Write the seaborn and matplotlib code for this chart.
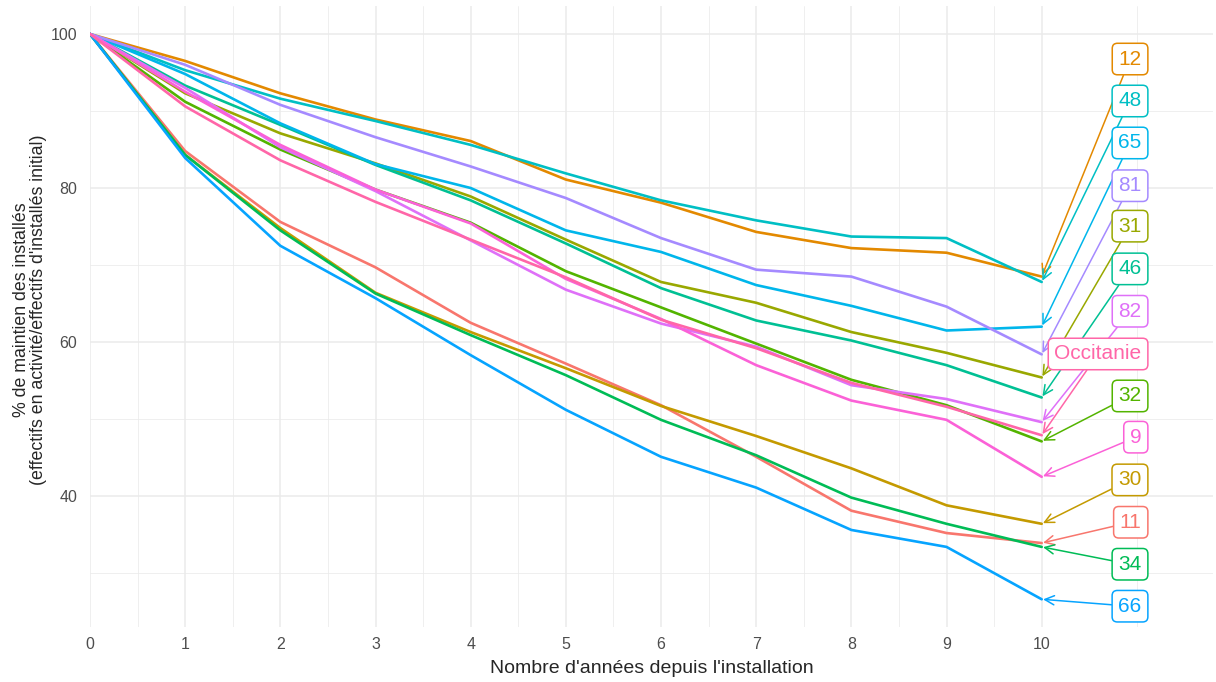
import numpy as np
import pandas as pd
import seaborn as sns
import matplotlib.pyplot as plt

# Years since installation
annees = list(range(11))

# % still active (one list per department / region)
d11 = [100, 84.8, 75.6, 69.7, 62.5, 57.2, 51.8, 45.1, 38.1, 35.2, 33.9]
d12 = [100, 96.5, 92.3, 88.9, 86.1, 81.1, 78.1, 74.3, 72.2, 71.6, 68.5]
d30 = [100, 84.3, 74.8, 66.4, 61.3, 56.6, 51.7, 47.8, 43.6, 38.8, 36.4]
d31 = [100, 92.3, 87.1, 83.2, 78.9, 73.3, 67.8, 65.1, 61.3, 58.6, 55.4]
d32 = [100, 91.2, 85.0, 79.8, 75.5, 69.2, 64.5, 59.8, 55.1, 51.8, 47.1]
d34 = [100, 84.3, 74.5, 66.3, 60.9, 55.7, 49.9, 45.3, 39.8, 36.4, 33.4]
d46 = [100, 93.3, 88.2, 83.0, 78.4, 72.8, 67.0, 62.8, 60.2, 57.0, 52.8]
d48 = [100, 95.3, 91.6, 88.7, 85.6, 81.9, 78.4, 75.8, 73.7, 73.5, 67.8]
d65 = [100, 94.8, 88.4, 83.1, 80.0, 74.5, 71.7, 67.4, 64.7, 61.5, 62.0]
d66 = [100, 83.9, 72.5, 65.7, 58.3, 51.2, 45.1, 41.1, 35.6, 33.4, 26.6]
d81 = [100, 96.0, 90.8, 86.6, 82.8, 78.7, 73.5, 69.4, 68.5, 64.6, 58.4]
d82 = [100, 93.0, 85.3, 79.6, 73.2, 66.8, 62.4, 59.4, 54.4, 52.6, 49.6]
d9 = [100, 92.5, 85.6, 79.8, 75.4, 68.2, 63.0, 57.0, 52.4, 49.9, 42.5]
occitanie = [100, 90.6, 83.6, 78.2, 73.3, 68.4, 62.9, 59.2, 54.7, 51.6, 47.9]

zones = ["11", "12", "30", "31", "32", "34", "46", "48", "65", "66", "81", "82", "9", "Occitanie"]
series = [d11, d12, d30, d31, d32, d34, d46, d48, d65, d66, d81, d82, d9, occitanie]

# ggplot default hue palette for 14 groups
couleurs = ["#F8766D", "#E38900", "#C49A00", "#99A800", "#53B400", "#00BC56", "#00C094",
            "#00BFC4", "#00B6EB", "#06A4FF", "#A58AFF", "#DF70F8", "#FB61D7", "#FF66A8"]

# label order from top to bottom on the right side
ordre_labels = ["12", "48", "65", "81", "31", "46", "82", "Occitanie", "32", "9", "30", "11", "34", "66"]
label_y = [96.75, 91.3, 85.85, 80.3, 75.05, 69.5, 64.0, 58.45, 53.0, 47.65, 42.1, 36.6, 31.15, 25.7]

df = pd.DataFrame({
    "annee": np.tile(annees, len(zones)),
    "zone": np.repeat(zones, len(annees)),
    "taux": np.concatenate(series),
})
palette = dict(zip(zones, couleurs))

sns.set_theme(style="white")
plt.rcParams["font.family"] = ["Liberation Sans", "DejaVu Sans"]

fig = plt.figure(figsize=(12.16, 6.82), dpi=100)
ax = fig.add_axes([90 / 1216, 55 / 682, 1123 / 1216, 621.5 / 682])

sns.lineplot(data=df, x="annee", y="taux", hue="zone", hue_order=zones,
             palette=palette, linewidth=1.9, legend=False, ax=ax, zorder=3)

ax.set_xlim(0, 11.8)
ax.set_ylim(23.0, 103.7)
ax.set_xticks(range(11))
ax.set_xticks([i / 2 for i in range(1, 21, 2)] + [11], minor=True)
ax.set_yticks([40, 60, 80, 100])
ax.set_yticks([30, 50, 70, 90], minor=True)
ax.grid(which="major", color="#EBEBEB", linewidth=1.1, zorder=0)
ax.grid(which="minor", color="#EBEBEB", linewidth=0.55, zorder=0)
ax.tick_params(which="both", length=0, labelsize=11.5, labelcolor="#4D4D4D")
ax.tick_params(axis="y", pad=9)
ax.tick_params(axis="x", pad=7)
for s in ax.spines.values():
    s.set_visible(False)

ax.set_xlabel("Nombre d'années depuis l'installation", fontsize=14, labelpad=6)
ax.set_ylabel("% de maintien des installés\n(effectifs en activité/effectifs d'installés initial)",
              fontsize=12.8, linespacing=1.0)
ax.yaxis.set_label_coords(-0.038, 0.51)

fin = {z: s[-1] for z, s in zip(zones, series)}
for z, ly in zip(ordre_labels, label_y):
    c = palette[z]
    ax.annotate(z, xy=(10, fin[z]), xytext=(11.05, ly), ha="right", va="center",
                fontsize=15, color=c, zorder=5,
                bbox=dict(boxstyle="round,pad=0.3,rounding_size=0.25", fc="white",
                          ec=c, lw=1.1, alpha=1),
                arrowprops=dict(arrowstyle="->,head_length=0.45,head_width=0.22",
                                color=c, lw=1.1, shrinkA=0, shrinkB=1))

fig.savefig("out.png", dpi=100)
